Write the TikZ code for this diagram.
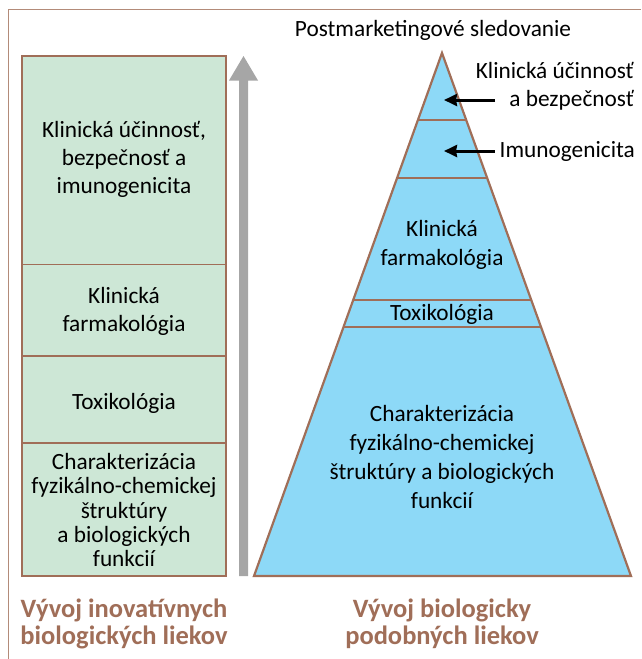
\documentclass[tikz,border=0pt]{standalone}
\usepackage{fontspec}
\setmainfont{Carlito}
\usetikzlibrary{calc,arrows.meta}
\definecolor{brn}{RGB}{160,110,88}
\definecolor{grn}{RGB}{205,231,214}
\definecolor{blu}{RGB}{141,217,247}
\definecolor{gry}{RGB}{166,166,166}
\tikzset{
  txt/.style={align=center,font=\fontsize{23.3}{28}\selectfont,inner sep=0pt},
  tighttxt/.style={align=center,font=\fontsize{23.3}{24.2}\selectfont,inner sep=0pt},
  pyrtxt/.style={align=center,font=\fontsize{23.3}{29}\selectfont,inner sep=0pt},
  lbl/.style={align=center,font=\fontsize{26.5}{27}\selectfont\bfseries,text=brn,inner sep=0pt},
  divl/.style={draw=brn,line width=1.1pt},
  ptr/.style={-{Stealth[length=13pt,width=12pt,inset=1pt]},line width=3pt,black}
}
\begin{document}
\begin{tikzpicture}[x=1pt,y=-1pt]
\useasboundingbox (0,0) rectangle (641,659);
% frame
\draw[brn!80,line width=1pt] (8,659) -- (8,9) -- (641,9);
% left column
\fill[grn] (22,56) rectangle (226,576);
\draw[divl] (22,264.5) -- (226,264.5);
\draw[divl] (22,356) -- (226,356);
\draw[divl] (22,443) -- (226,443);
\draw[brn,line width=2.2pt] (22,56) rectangle (226,576);
\node[txt] (l1) at (124,159) {Klinická účinnosť,\\bezpečnosť a\\imunogenicita};
\node[txt] (l2) at (124,311) {Klinická\\farmakológia};
\node[txt] (l3) at (124,403) {Toxikológia};
\node[tighttxt] (l4) at (124,510) {Charakterizácia\\fyzikálno-chemickej\\štruktúry\\a biologických\\funkcií};
% gray arrow
\fill[gry] (239,576) -- (239,80.5) -- (229,80.5) -- (243.5,56) -- (258,80.5) -- (248,80.5) -- (248,576) -- cycle;
% pyramid
\coordinate (apex) at (442,53);
\coordinate (bl) at (254,576);
\coordinate (br) at (631,576);
\fill[blu] (apex) -- (bl) -- (br) -- cycle;
\foreach \yy in {120,178,300,327}{
  \pgfmathsetmacro{\t}{(\yy-53)/523}
  \draw[divl] ($(apex)!\t!(bl)$) -- ($(apex)!\t!(br)$);
}
\draw[brn,line width=2.2pt,line join=miter] (apex) -- (bl) -- (br) -- cycle;
\node[pyrtxt] (p1) at (442,245) {Klinická\\farmakológia};
\node[txt] (p2) at (442,314) {Toxikológia};
\node[pyrtxt] (p3) at (442,457) {Charakterizácia\\fyzikálno-chemickej\\štruktúry a biologických\\funkcií};
% top label
\node[txt] (pm) at (433,30) {Postmarketingové sledovanie};
% right labels and arrows
\node[txt,align=right,anchor=east] (r1) at (634,86) {Klinická účinnosť\\a bezpečnosť};
\node[txt,anchor=east] (r2) at (635,151) {Imunogenicita};
\coordinate (a1s) at (495,100);
\coordinate (a1e) at (444,100);
\coordinate (a2s) at ([xshift=-5pt]r2.west);
\coordinate (a2e) at (444,151);
\draw[ptr] (a1s) -- (a1e);
\draw[ptr] (a2s) -- (a2e);
% bottom labels
\node[lbl] (b1) at (124,624) {Vývoj inovatívnych\\biologických liekov};
\node[lbl] (b2) at (442,624) {Vývoj biologicky\\podobných liekov};
\end{tikzpicture}
\end{document}
